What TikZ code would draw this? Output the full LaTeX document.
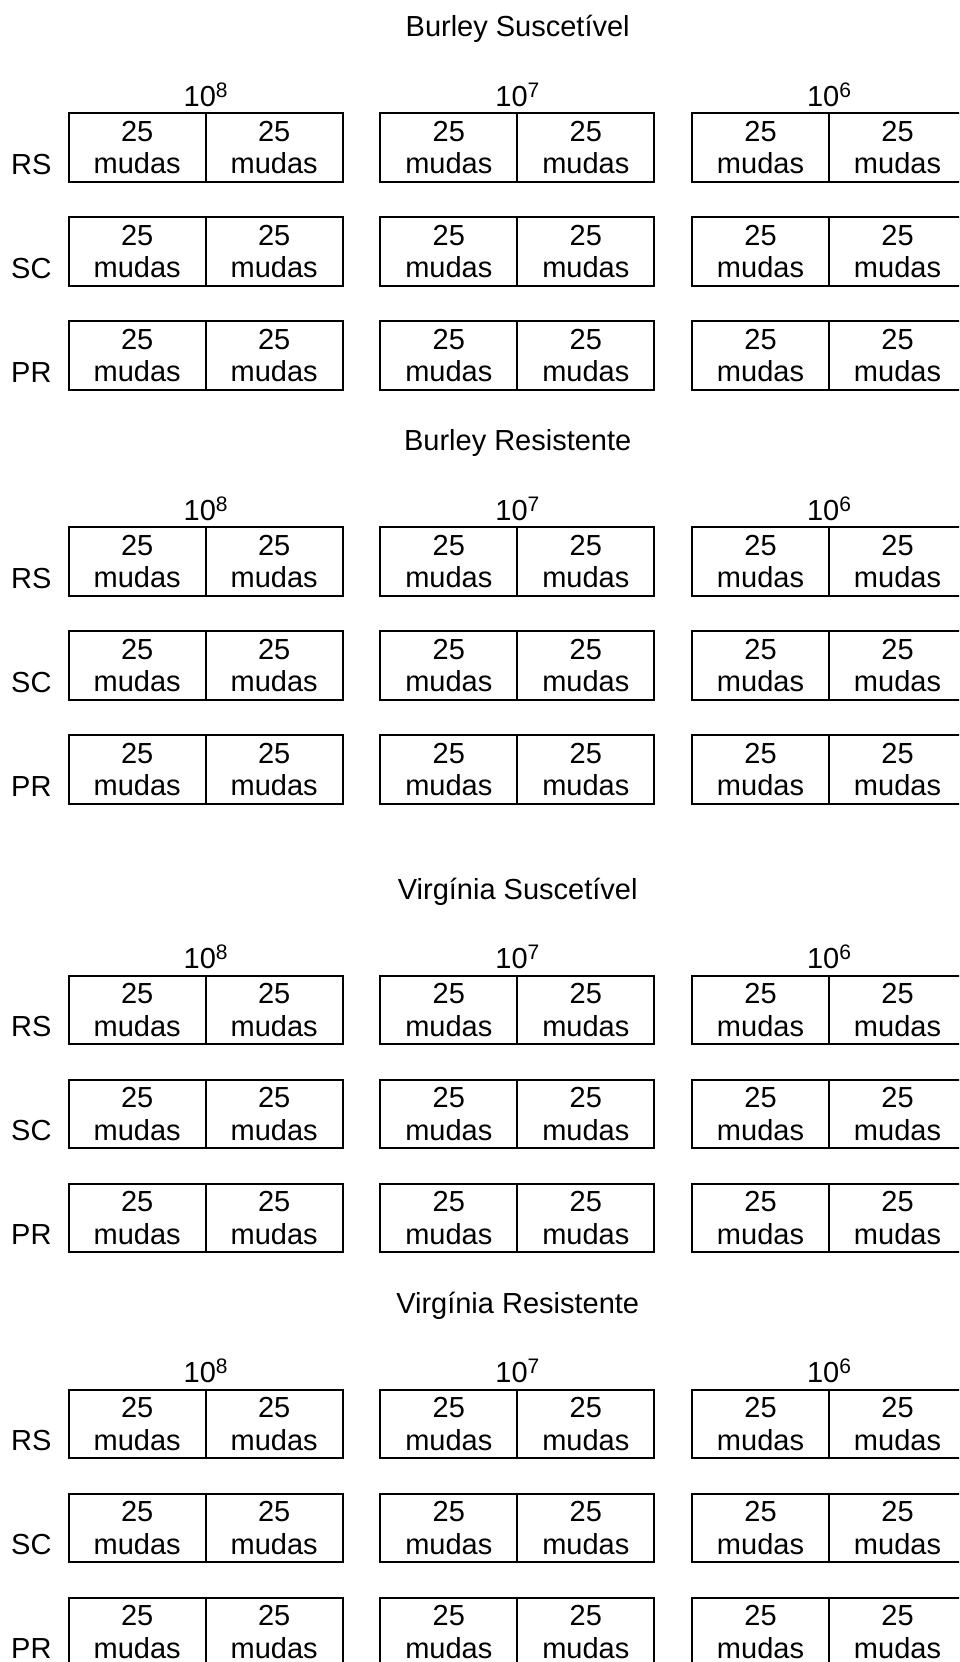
\documentclass[tikz,border=0pt]{standalone}
\usepackage{fontspec}
\setmainfont{Liberation Sans}

\newcommand{\dez}[1]{10\raisebox{9pt}{\fontsize{21}{21}\selectfont #1}}

\tikzset{
  celula/.style={draw, line width=2pt, minimum width=137pt, minimum height=68.4pt,
    inner sep=0pt, outer sep=0pt, align=center, font=\fontsize{29}{32.5}\selectfont},
  rotulo/.style={inner sep=0pt, font=\fontsize{29}{32.5}\selectfont},
}

\begin{document}
\begin{tikzpicture}[x=1pt, y=-1pt]
\useasboundingbox (0,0) rectangle (959,1662);
\clip (0,0) rectangle (959,1662);

% Secoes (topo da linha RS e titulo)
\foreach \s/\topo/\titulo in {1/113.3/Burley Suscetível, 2/527.3/Burley Resistente,
    3/976/Virgínia Suscetível, 4/1390/Virgínia Resistente} {
  \node[rotulo, anchor=base] (tit\s) at (517.7,\topo-76.5) {\titulo};

  % Blocos de concentracao
  \foreach \b/\e in {0/8, 1/7, 2/6} {
    \pgfmathsetmacro{\xb}{68.7+311.65*\b}
    \node[rotulo, anchor=base] (dez\s\b) at (\xb+137,\topo-7.3) {\dez{\e}};
    \foreach \r in {0,1,2} {
      \foreach \c in {0,1} {
        \node[celula, anchor=north west] (cel\s\b\r\c) at (\xb+137*\c,\topo+104*\r) {25\\mudas};
      }
    }
  }

  % Linhas
  \foreach \r/\linha in {0/RS, 1/SC, 2/PR} {
    \node[rotulo, anchor=base east] (lin\s\r) at (51.7,\topo+104*\r+60.7) {\linha};
  }
}

\end{tikzpicture}
\end{document}
